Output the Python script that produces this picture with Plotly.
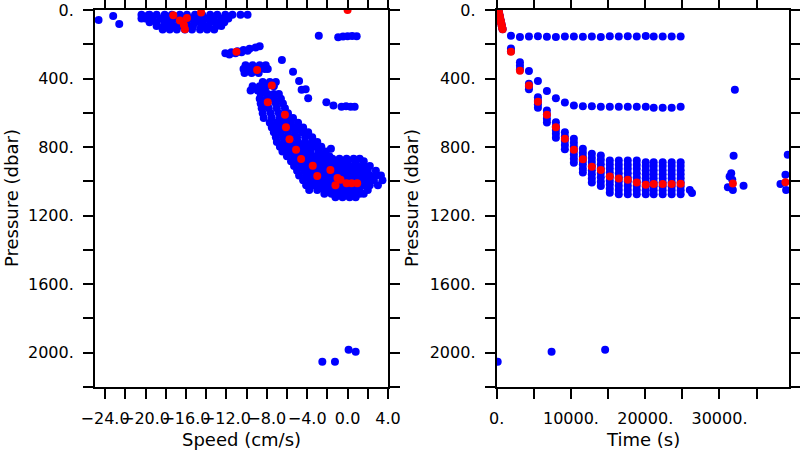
import plotly.graph_objects as go

# ---------------- Left panel: Speed (cm/s) vs Pressure (dbar) ----------------
left_iso_speed = [-24.65, -23.2, -22.6, -20.4, -19.7,
                  -2.85, -0.93, -0.45, 0.0, 0.45, 0.9,
                  -6.5, -5.4, -4.8, -4.55, -4.15, -3.9,
                  -2.1, -1.4, -0.6, -0.15, 0.3, 0.7, -1.65,
                  -2.5, -1.25, 0.1, 0.8]
left_iso_pres = [58, 35, 82, 49, 29,
                 150, 159, 155, 153, 152, 153,
                 292, 360, 414, 466, 462, 515,
                 538, 558, 564, 562, 565, 564, 810,
                 2052, 2052, 1982, 1994]

top_rows_pres = [28, 50, 72, 94, 114]
top_rows_speed = [
    [-20.4, -19.6, -18.9, -18.1, -17.4, -16.6, -15.9, -15.1, -14.4, -13.6, -12.9, -12.1, -11.4, -10.6, -9.9],
    [-20.0, -19.3, -18.5, -17.8, -17.0, -16.3, -15.5, -14.8, -14.0, -13.3, -12.5, -11.8],
    [-19.6, -18.9, -18.1, -17.4, -16.6, -15.9, -15.1, -14.4, -13.6, -12.9, -12.2],
    [-18.9, -18.2, -17.5, -16.8, -16.0, -15.3, -14.5, -13.8, -13.0, -12.5],
    [-18.3, -17.6, -16.9, -16.1, -15.4, -14.6, -13.9, -13.2],
]

streak_speed = [-12.1, -11.5, -10.9, -10.3, -9.7, -9.1, -8.7, -11.7, -11.1, -10.5, -9.9]
streak_pres = [253, 247, 240, 233, 226, 219, 212, 260, 253, 246, 238]

mid_rows_pres = [323, 345, 367, 420, 445, 470]
mid_rows_speed = [
    [-10.1, -9.4, -8.7, -8.1],
    [-10.3, -9.6, -8.9, -8.2, -7.9],
    [-10.2, -9.5, -8.8],
    [-8.4, -7.7, -7.1],
    [-9.4, -8.7, -8.0, -7.3],
    [-9.6, -8.9, -8.2],
]

main_rows_pres = [490, 518, 546, 574, 602, 630, 658, 686, 714, 742, 770, 798, 826, 854,
                  868, 882, 910, 938, 966, 994, 1022, 1050, 1072, 1092]
main_rows_speed = [
    [-8.6, -7.9, -7.3, -6.8],
    [-8.7, -8.0, -7.3, -6.6],
    [-8.6, -7.9, -7.1, -6.4],
    [-8.5, -7.8, -7.0, -6.2],
    [-8.4, -7.6, -6.8, -5.9],
    [-8.3, -7.5, -6.7, -6.0, -5.4],
    [-7.7, -7.0, -6.3, -5.6, -4.9],
    [-7.5, -6.8, -6.1, -5.4, -4.8, -4.4],
    [-7.3, -6.6, -5.9, -5.2, -4.5, -3.9],
    [-7.1, -6.4, -5.7, -5.0, -4.2, -3.5],
    [-7.0, -6.3, -5.6, -4.9, -4.2, -3.5, -3.0],
    [-6.7, -6.0, -5.3, -4.6, -3.9, -3.2, -2.6],
    [-6.45, -5.8, -5.1, -4.4, -3.7, -2.9, -2.15],
    [-6.0, -5.3, -4.6, -3.9, -3.2, -2.5, -1.8],
    [-1.5, -0.8, -0.1, 0.6, 1.2],
    [-5.6, -4.9, -4.2, -3.5, -2.8, -2.1, -1.4, -0.7, 0.0, 0.8, 1.6],
    [-5.3, -4.6, -3.9, -3.2, -2.5, -1.8, -1.1, -0.4, 0.3, 1.0, 1.6, 2.2],
    [-5.0, -4.3, -3.6, -2.9, -2.2, -1.5, -0.8, -0.1, 0.6, 1.3, 2.0, 2.8],
    [-4.8, -4.1, -3.4, -2.7, -2.0, -1.3, -0.6, 0.1, 0.8, 1.5, 2.2, 2.8, 3.3],
    [-4.4, -3.7, -3.0, -2.3, -1.6, -0.9, -0.2, 0.5, 1.2, 1.9, 2.6, 3.45],
    [-4.1, -3.4, -2.7, -2.0, -1.3, -0.6, 0.1, 0.8, 1.5, 2.2, 3.0],
    [-3.8, -3.0, -2.3, -1.6, -0.9, -0.2, 0.5, 1.2, 2.0],
    [-2.3, -1.6, -0.9, -0.2, 0.5, 1.2, 1.6],
    [-1.2, -0.5, 0.2, 0.8],
]

left_red_speed = [-17.25, -16.6, -15.9, -16.2, -16.1, -14.5, 0.0,
                  -11.0, -8.95, -7.5, -7.9, -6.2, -6.1, -5.75, -5.1, -4.6,
                  -3.45, -3.0, -1.7, -1.0, -0.7, -1.2, -0.1, 0.4, 0.95]
left_red_pres = [31, 62, 46, 87, 113, 14, 0,
                 243, 350, 441, 538, 612, 684, 754, 816, 870,
                 909, 968, 933, 981, 991, 1022, 1011, 1011, 1011]

# ---------------- Right panel: Time (s) vs Pressure (dbar) ----------------
col_times = [1920, 3130, 4340, 5550, 6760, 7970, 9180, 10390, 11600, 12810,
             14020, 15230, 16440, 17650, 18860, 20070, 21140, 22350, 23560, 24770]
col_top_pres = [150, 157, 155, 153, 156, 158, 154, 155, 156, 155,
                157, 153, 154, 153, 155, 152, 154, 155, 155, 154]
col_second_pres = [None, None, 356, 414, 472, 515, 540, 558, 562, 562,
                   565, 565, 565, 565, 565, 565, 570, 570, 570, 565]
col_stack_pres = [
    [224, 240],
    [305, 325, 346],
    [431, 447, 463],
    [509, 530, 550, 570],
    [587, 610, 634, 657],
    [655, 678, 700, 722, 745],
    [713, 738, 763, 788, 813],
    [752, 775, 798, 821, 845, 868, 891],
    [810, 833, 856, 879, 902, 926, 949],
    [839, 863, 887, 911, 935, 959, 983, 1007],
    [849, 874, 900, 925, 951, 976, 1002, 1027],
    [878, 902, 925, 949, 972, 996, 1019, 1043, 1066],
    [878, 903, 927, 952, 977, 1001, 1026, 1050, 1075],
    [878, 903, 927, 952, 977, 1001, 1026, 1050, 1075],
    [878, 903, 927, 952, 977, 1001, 1026, 1050, 1075],
    [888, 911, 935, 958, 982, 1005, 1028, 1052, 1075],
    [888, 911, 935, 958, 982, 1005, 1028, 1052, 1075],
    [888, 911, 935, 958, 982, 1005, 1028, 1052, 1075],
    [888, 911, 935, 958, 982, 1005, 1028, 1052, 1075],
    [888, 911, 935, 958, 982, 1005, 1028, 1052, 1075],
]
col_red_pres = [243, 354, 441, 535, 612, 684, 752, 815, 871, 914,
                933, 972, 984, 991, 1007, 1020, 1016, 1016, 1016, 1014]

right_iso_time = [26000, 26300, 32070, 31900, 31580, 31360, 31720, 31130, 31800, 33240,
                  39190, 38880, 38210, 38970, 134, 7390, 14600]
right_iso_pres = [1050, 1068, 466, 851, 952, 972, 991, 1034, 1050, 1026,
                  845, 962, 1015, 1050, 2052, 1994, 1982]

descent_time = [250, 300, 350, 400, 450, 500, 550, 600, 650, 700, 750, 800]
descent_pres = [5, 15, 25, 35, 45, 55, 65, 75, 85, 95, 105, 112]

right_red_time = [31800, 38880]
right_red_pres = [1012, 1005]

# ---------------- build flat series ----------------
def flatten(rows_pres, rows_vals):
    xs, ys = [], []
    for p, vals in zip(rows_pres, rows_vals):
        for v in vals:
            xs.append(v)
            ys.append(p)
    return xs, ys

lx, ly = list(left_iso_speed), list(left_iso_pres)
for rp, rv in [(top_rows_pres, top_rows_speed), (mid_rows_pres, mid_rows_speed),
               (main_rows_pres, main_rows_speed)]:
    a, b = flatten(rp, rv)
    lx += a
    ly += b
lx += streak_speed
ly += streak_pres

rx, ry = list(right_iso_time), list(right_iso_pres)
for t, p in zip(col_times, col_top_pres):
    rx.append(t); ry.append(p)
for t, p in zip(col_times, col_second_pres):
    if p is not None:
        rx.append(t); ry.append(p)
for t, stack in zip(col_times, col_stack_pres):
    for p in stack:
        rx.append(t); ry.append(p)
rx += descent_time
ry += descent_pres

rrx = descent_time + col_times + right_red_time
rry = descent_pres + col_red_pres + right_red_pres

BLUE = "#0000FF"
RED = "#FF0000"
MS = 8

fig = go.Figure()
fig.add_trace(go.Scatter(x=lx, y=ly, mode="markers", xaxis="x", yaxis="y",
                         marker=dict(color=BLUE, size=MS, line=dict(width=0)), hoverinfo="skip"))
fig.add_trace(go.Scatter(x=left_red_speed, y=left_red_pres, mode="markers", xaxis="x", yaxis="y",
                         marker=dict(color=RED, size=MS, line=dict(width=0)), hoverinfo="skip"))
fig.add_trace(go.Scatter(x=rx, y=ry, mode="markers", xaxis="x2", yaxis="y2",
                         marker=dict(color=BLUE, size=MS, line=dict(width=0)), hoverinfo="skip"))
fig.add_trace(go.Scatter(x=rrx, y=rry, mode="markers", xaxis="x2", yaxis="y2",
                         marker=dict(color=RED, size=MS, line=dict(width=0)), hoverinfo="skip"))

# ticks
speed_tickvals = list(range(-24, 5, 2))
speed_ticktext = ["\u221224.0", "", "\u221220.0", "", "\u221216.0", "", "\u221212.0", "",
                  "\u22128.0", "", "\u22124.0", "", "0.0", "", "4.0"]
time_tickvals = [0, 5000, 10000, 15000, 20000, 25000, 30000, 35000]
time_ticktext = ["0.", "", "10000.", "", "20000.", "", "30000.", ""]
pres_tickvals = list(range(0, 2201, 200))
pres_ticktext = ["0.", "", "400.", "", "800.", "", "1200.", "", "1600.", "", "2000.", ""]

FONT = "DejaVu Sans"
tickfont = dict(family=FONT, size=16, color="#000")
common_axis = dict(showline=True, linecolor="#000", linewidth=2, mirror="allticks",
                   ticks="outside", ticklen=10, tickwidth=1.5, tickcolor="#000",
                   showgrid=False, zeroline=False, tickfont=tickfont, tickmode="array",
                   automargin=False, tickangle=0)

ydom = [1 - 387 / 450, 1 - 10 / 450]
fig.update_layout(
    width=800, height=450,
    margin=dict(l=0, r=0, t=0, b=0),
    paper_bgcolor="white", plot_bgcolor="white",
    showlegend=False,
    font=dict(family=FONT, color="#000"),
    xaxis=dict(domain=[95 / 800, 388 / 800], range=[-25, 4], anchor="y",
               tickvals=speed_tickvals, ticktext=speed_ticktext, ticklabelstandoff=6, **common_axis),
    yaxis=dict(domain=ydom, range=[2200, 0], anchor="x",
               tickvals=pres_tickvals, ticktext=pres_ticktext, ticklabelstandoff=6, **common_axis),
    xaxis2=dict(domain=[496.7 / 800, 789.3 / 800], range=[0, 39400], anchor="y2",
                tickvals=time_tickvals, ticktext=time_ticktext, ticklabelstandoff=6, **common_axis),
    yaxis2=dict(domain=ydom, range=[2200, 0], anchor="x2",
                tickvals=pres_tickvals, ticktext=pres_ticktext, ticklabelstandoff=6, **common_axis),
)

titlefont = dict(family=FONT, size=18, color="#000")
ann = [
    dict(text="Speed (cm/s)", x=241.5 / 800, y=1 - 439 / 450),
    dict(text="Time (s)", x=643 / 800, y=1 - 439 / 450),
    dict(text="Pressure (dbar)", x=12 / 800, y=1 - 198 / 450, textangle=-90),
    dict(text="Pressure (dbar)", x=412 / 800, y=1 - 198 / 450, textangle=-90),
]
for a in ann:
    fig.add_annotation(xref="paper", yref="paper", showarrow=False,
                       xanchor="center", yanchor="middle", font=titlefont, **a)

fig.write_html("out.html", config={"displayModeBar": False},
               post_script="document.body.style.margin='0';document.body.style.overflow='hidden';")
